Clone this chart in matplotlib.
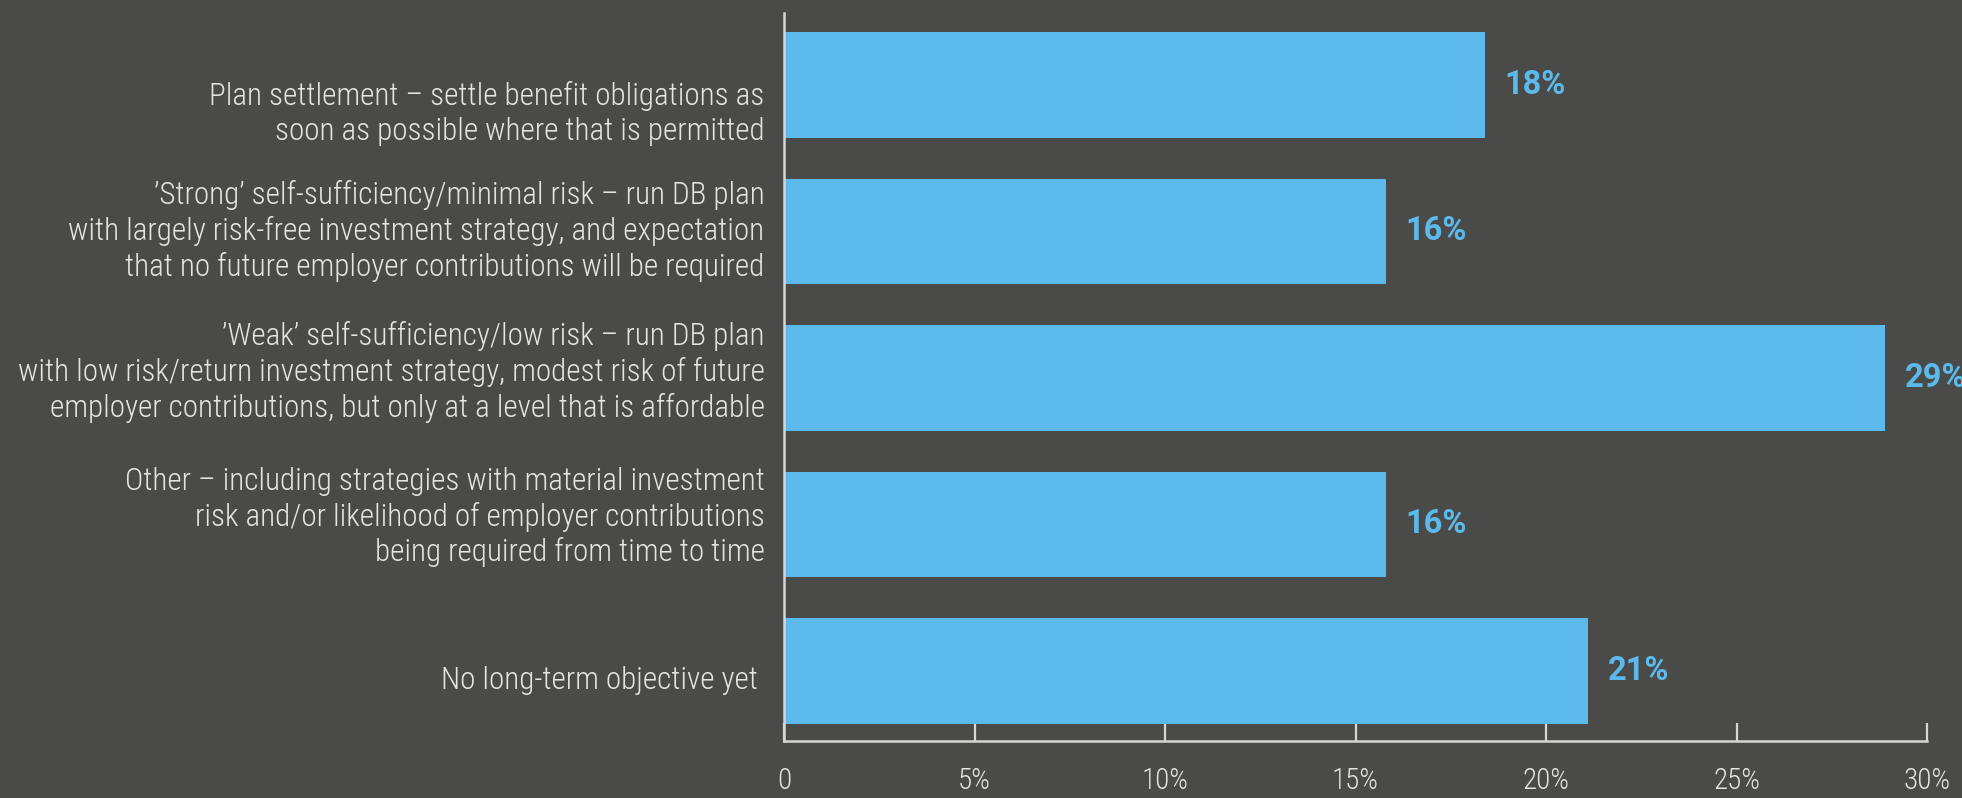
import matplotlib
matplotlib.use("Agg")
import matplotlib.pyplot as plt
from matplotlib.ticker import FixedLocator, FixedFormatter
from matplotlib.transforms import ScaledTranslation

# Long-term objective for the DB plan, share of respondents
objectives = [
    "Plan settlement \u2013 settle benefit obligations as\nsoon as possible where that is permitted",
    "\u2019Strong\u2019 self-sufficiency/minimal risk \u2013 run DB plan\n"
    "with largely risk-free investment strategy, and expectation\n"
    "that no future employer contributions will be required",
    "\u2019Weak\u2019 self-sufficiency/low risk \u2013 run DB plan\n"
    "with low risk/return investment strategy, modest risk of future\n"
    "employer contributions, but only at a level that is affordable",
    "Other \u2013 including strategies with material investment\n"
    "risk and/or likelihood of employer contributions\n"
    "being required from time to time",
    "No long-term objective yet ",
]
shares = [18.4, 15.8, 28.9, 15.8, 21.1]
share_labels = ["18%", "16%", "29%", "16%", "21%"]

x_ticks = [0, 5, 10, 15, 20, 25, 30]
x_tick_labels = ["0", "5%", "10%", "15%", "20%", "25%", "30%"]

bg = "#4a4a48"
bar_color = "#5bbaeb"
text_color = "#e4e4e4"
spine_color = "#d6d6d6"

plt.rcParams["font.family"] = ["Roboto Condensed", "DejaVu Sans"]

fig = plt.figure(figsize=(19.62, 7.98), dpi=100, facecolor=bg)
ax = fig.add_axes([0.3996, 0.0714, 0.5826, 0.9123], facecolor=bg)

pos = list(range(len(objectives)))
ax.barh(pos, shares, height=0.72, color=bar_color, zorder=2)

for p, v, lab in zip(pos, shares, share_labels):
    ax.annotate(lab, (v, p), xytext=(14, 0), textcoords="offset points",
                ha="left", va="center", fontsize=23.5, fontweight="bold",
                family=["Roboto", "DejaVu Sans"],
                color=bar_color, annotation_clip=False)

ax.set_xlim(0, 30)
ax.set_ylim(4.478, -0.49)

ax.set_yticks(pos)
ax.set_yticklabels(objectives, fontsize=22.4, fontweight="light",
                   color=text_color, linespacing=1.24)
ax.tick_params(axis="y", length=0, pad=14)

# the label blocks don't sit exactly on the bar centres (points, + is up)
label_shift = [-16.5, 4.5, 8.5, 9.5, -5]
for t, dy in zip(ax.get_yticklabels(), label_shift):
    t.set_transform(t.get_transform() + ScaledTranslation(0, dy / 72, fig.dpi_scale_trans))

ax.xaxis.set_major_locator(FixedLocator(x_ticks))
ax.xaxis.set_major_formatter(FixedFormatter(x_tick_labels))
ax.tick_params(axis="x", direction="in", length=13, width=1.6,
               color=spine_color, labelcolor=text_color, labelsize=21, pad=19)
for t in ax.get_xticklabels():
    t.set_fontweight("light")

for side in ("top", "right"):
    ax.spines[side].set_visible(False)
for side in ("left", "bottom"):
    ax.spines[side].set_color(spine_color)
    ax.spines[side].set_linewidth(1.8)

fig.savefig("out.png", dpi=100, facecolor=bg)
